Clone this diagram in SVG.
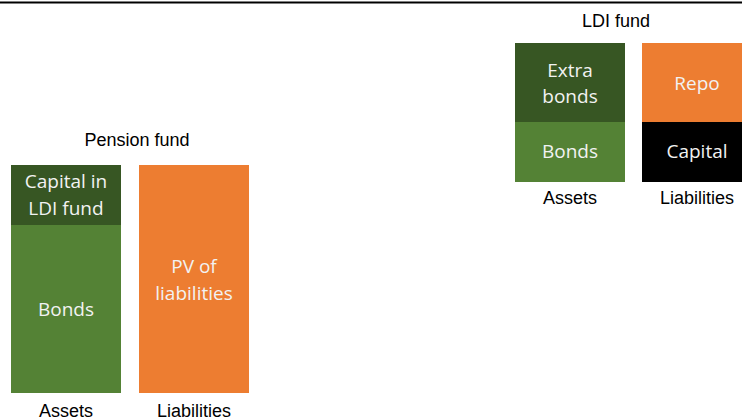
<svg xmlns="http://www.w3.org/2000/svg" width="742" height="418" viewBox="0 0 742 418">
<style>
.lbl{font-family:"Liberation Sans",Arial,sans-serif;font-size:18px;fill:#000;text-anchor:middle}
.in{font-family:"Open Sans","Noto Sans",sans-serif;font-size:19px;fill:#F2F2F2;text-anchor:middle}
.dk{fill:#375623}.gr{fill:#548235}.or{fill:#ED7D31}.bk{fill:#000}
</style>
<rect width="742" height="418" fill="#fff"/>
<line x1="0" y1="2.5" x2="742" y2="2.5" stroke="#000" stroke-width="2"/>
<g id="pension-fund">
<text class="lbl" x="137" y="146">Pension fund</text>
<g id="pf-capital"><rect class="dk" x="11" y="165" width="110" height="60"/><text class="in" x="66" y="188">Capital in</text><text class="in" x="66" y="215">LDI fund</text></g>
<g id="pf-bonds"><rect class="gr" x="11" y="225" width="110" height="168"/><text class="in" x="66" y="316">Bonds</text></g>
<g id="pf-liab"><rect class="or" x="139" y="165" width="110" height="228"/><text class="in" x="194" y="273">PV of</text><text class="in" x="194" y="300">liabilities</text></g>
<text class="lbl" x="66" y="417">Assets</text>
<text class="lbl" x="194" y="417">Liabilities</text>
</g>
<g id="ldi-fund">
<text class="lbl" x="616" y="27">LDI fund</text>
<g id="ldi-extra"><rect class="dk" x="515" y="43" width="110" height="79"/><text class="in" x="570" y="77">Extra</text><text class="in" x="570" y="103">bonds</text></g>
<g id="ldi-bonds"><rect class="gr" x="515" y="122" width="110" height="60"/><text class="in" x="570" y="158">Bonds</text></g>
<g id="ldi-repo"><rect class="or" x="642" y="43" width="100" height="79"/><text class="in" x="697" y="90">Repo</text></g>
<g id="ldi-capital"><rect class="bk" x="642" y="122" width="100" height="60"/><text class="in" x="697" y="158">Capital</text></g>
<text class="lbl" x="570" y="204">Assets</text>
<text class="lbl" x="697" y="204">Liabilities</text>
</g>
<g id="connectors"></g>
</svg>
